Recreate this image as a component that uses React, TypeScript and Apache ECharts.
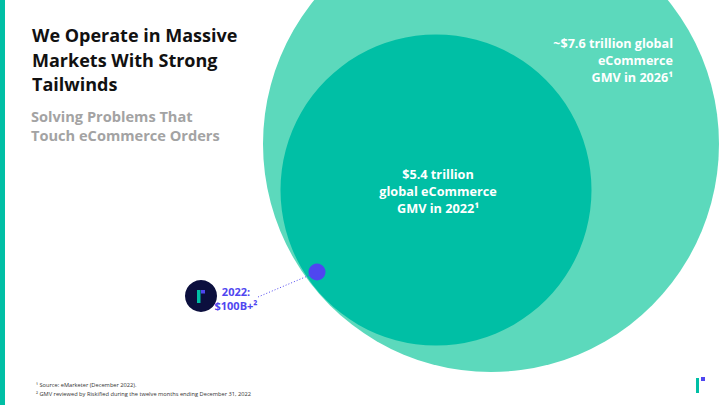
import React, { useEffect, useRef } from "react";
import * as echarts from "echarts";

// ---- data ----
const marketNames = ["Global eCommerce GMV 2026", "Global eCommerce GMV 2022", "Riskified GMV 2022"];
const marketValues = ["~$7.6 trillion", "$5.4 trillion", "$100B+"];
const marketYears = ["2026", "2022", "2022"];
const titleLines = ["We Operate in Massive", "Markets With Strong", "Tailwinds"];
const subtitleLines = ["Solving Problems That", "Touch eCommerce Orders"];
const footnotes = [
  "¹ Source: eMarketer (December 2022).",
  "² GMV reviewed by Riskified during the twelve months ending December 31, 2022",
];

// ---- layout (pixel positions on a 720x405 canvas) ----
const circlePos = [
  [491, 144],
  [436, 190],
  [317, 272],
];
const circleSize = [456, 311, 17];
const circleColor = ["#5CD9BC", "#00BFA5", "#4F46F0"];

const FONT = "'Open Sans', sans-serif";
const TEAL = "#00BFA5";
const PURPLE = "#4F46F0";

export default function App() {
  const ref = useRef<HTMLDivElement>(null);
  useEffect(() => {
    if (!ref.current) return;
    const chart = echarts.init(ref.current, null, { renderer: "svg" });
    const data = circlePos.map((p, i) => ({
      name: marketNames[i],
      value: p,
      symbolSize: circleSize[i],
      itemStyle: { color: circleColor[i], opacity: 1 },
    }));
    chart.setOption({
      animation: false,
      backgroundColor: "#ffffff",
      grid: { left: 0, right: 0, top: 0, bottom: 0 },
      xAxis: { type: "value", min: 0, max: 720, show: false },
      yAxis: { type: "value", min: 0, max: 405, inverse: true, show: false },
      series: [
        {
          type: "scatter",
          symbol: "circle",
          data,
          silent: true,
          z: 2,
        },
      ],
      graphic: [
        { type: "rect", shape: { x: 0, y: 0, width: 5, height: 405 }, style: { fill: TEAL }, z: 10 },
        {
          type: "text",
          x: 32,
          y: 23,
          style: {
            text: titleLines.join("\n"),
            fill: "#111111",
            font: `bold 18px ${FONT}`,
            lineHeight: 24.5,
            verticalAlign: "top",
          },
          z: 10,
        },
        {
          type: "text",
          x: 31,
          y: 106,
          style: {
            text: subtitleLines.join("\n"),
            fill: "#A3A3A3",
            font: `bold 14.6px ${FONT}`,
            lineHeight: 19,
            verticalAlign: "top",
          },
          z: 10,
        },
        {
          type: "text",
          x: 673,
          y: 35,
          style: {
            text: `${marketValues[0]} global\neCommerce\nGMV in ${marketYears[0]}¹`,
            align: "right",
            verticalAlign: "top",
            fill: "#ffffff",
            font: `bold 12.6px ${FONT}`,
            lineHeight: 17,
          },
          z: 10,
        },
        {
          type: "text",
          x: 438,
          y: 165,
          style: {
            text: `${marketValues[1]}\nglobal eCommerce\nGMV in ${marketYears[1]}¹`,
            align: "center",
            verticalAlign: "top",
            fill: "#ffffff",
            font: `bold 12.7px ${FONT}`,
            lineHeight: 17,
          },
          z: 10,
        },
        {
          type: "line",
          shape: { x1: 258, y1: 297, x2: 310, y2: 275 },
          style: { stroke: PURPLE, lineWidth: 1, lineDash: [1, 2] },
          z: 9,
        },
        { type: "circle", shape: { cx: 201, cy: 296, r: 16 }, style: { fill: "#0C0F3E" }, z: 10 },
        { type: "rect", shape: { x: 197, y: 290, width: 3.5, height: 13 }, style: { fill: TEAL }, z: 11 },
        { type: "rect", shape: { x: 201, y: 290, width: 4, height: 3.5 }, style: { fill: PURPLE }, z: 11 },
        {
          type: "text",
          x: 236,
          y: 284,
          style: {
            text: `${marketYears[2]}:\n${marketValues[2]}²`,
            align: "center",
            verticalAlign: "top",
            fill: PURPLE,
            font: `bold 11px ${FONT}`,
            lineHeight: 14,
          },
          z: 10,
        },
        {
          type: "text",
          x: 36,
          y: 380,
          style: {
            text: footnotes.join("\n"),
            verticalAlign: "top",
            fill: "#333333",
            font: `5.7px ${FONT}`,
            lineHeight: 9,
          },
          z: 10,
        },
        { type: "rect", shape: { x: 696, y: 378, width: 3, height: 15 }, style: { fill: TEAL }, z: 10 },
        { type: "rect", shape: { x: 701, y: 377, width: 4, height: 4 }, style: { fill: PURPLE }, z: 10 },
      ],
    });
    return () => chart.dispose();
  }, []);
  return (
    <div
      ref={ref}
      style={{ position: "absolute", left: 0, top: 0, width: 720, height: 405 }}
    />
  );
}
